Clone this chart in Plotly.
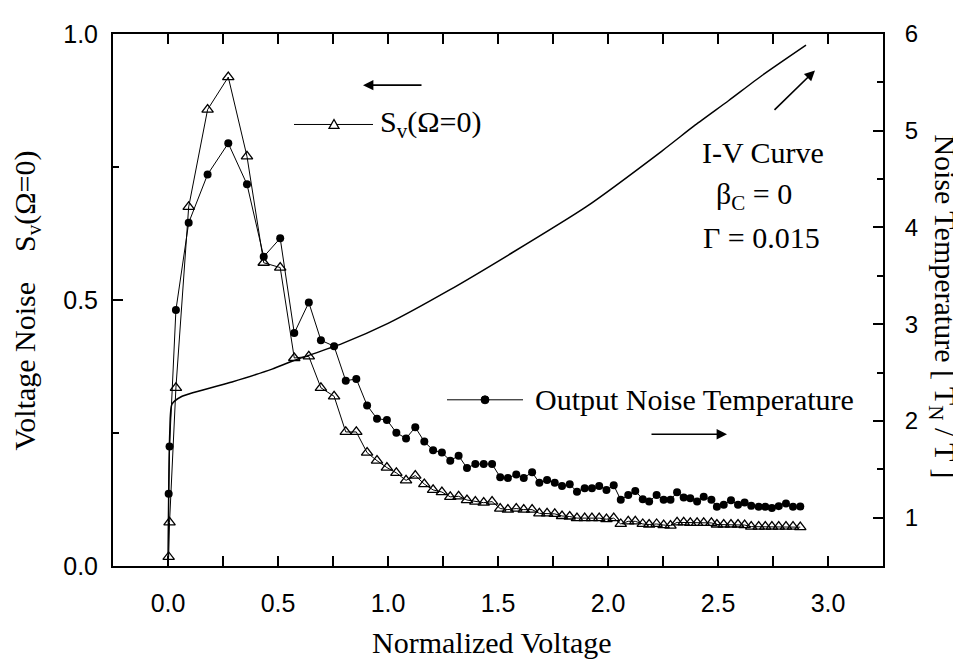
import plotly.graph_objects as go

# ---- data ----
voltage = [0.003, 0.007, 0.036, 0.094, 0.180, 0.274, 0.359, 0.435, 0.510, 0.574,
           0.640, 0.695, 0.755, 0.808, 0.856, 0.905, 0.950, 0.995, 1.038, 1.082,
           1.124, 1.165, 1.205, 1.245, 1.283, 1.321, 1.359, 1.397, 1.435, 1.473,
           1.510, 1.545, 1.583, 1.617, 1.655, 1.688, 1.723, 1.758, 1.791, 1.826,
           1.859, 1.894, 1.927, 1.960, 1.993, 2.026, 2.058, 2.092, 2.124, 2.158,
           2.187, 2.221, 2.253, 2.284, 2.314, 2.344, 2.374, 2.405, 2.435, 2.470,
           2.495, 2.526, 2.559, 2.591, 2.621, 2.651, 2.685, 2.715, 2.745, 2.776,
           2.809, 2.841, 2.874]

sv_noise = [0.017, 0.082, 0.335, 0.675, 0.858, 0.919, 0.770, 0.570, 0.561, 0.391,
            0.394, 0.335, 0.319, 0.252, 0.252, 0.213, 0.198, 0.185, 0.175, 0.161,
            0.170, 0.154, 0.143, 0.139, 0.130, 0.131, 0.124, 0.121, 0.119, 0.121,
            0.108, 0.106, 0.108, 0.106, 0.106, 0.099, 0.099, 0.098, 0.094, 0.093,
            0.090, 0.090, 0.090, 0.090, 0.088, 0.090, 0.079, 0.084, 0.084, 0.079,
            0.078, 0.079, 0.077, 0.076, 0.082, 0.082, 0.081, 0.081, 0.081, 0.081,
            0.078, 0.078, 0.078, 0.078, 0.077, 0.074, 0.074, 0.074, 0.074, 0.074,
            0.074, 0.074, 0.073]

noise_temp = [1.248, 1.735, 3.146, 4.048, 4.548, 4.870, 4.446, 3.697, 3.888, 2.908,
              3.224, 2.834, 2.772, 2.415, 2.434, 2.160, 2.023, 2.010, 1.878, 1.819,
              1.934, 1.786, 1.697, 1.673, 1.589, 1.640, 1.513, 1.554, 1.554, 1.554,
              1.418, 1.411, 1.446, 1.411, 1.469, 1.360, 1.388, 1.360, 1.327, 1.344,
              1.268, 1.303, 1.303, 1.327, 1.286, 1.334, 1.184, 1.235, 1.276, 1.191,
              1.166, 1.235, 1.184, 1.184, 1.262, 1.207, 1.201, 1.166, 1.217, 1.184,
              1.112, 1.133, 1.181, 1.133, 1.156, 1.122, 1.112, 1.112, 1.099, 1.119,
              1.146, 1.112, 1.115]

iv_voltage = [0.0, 0.008, 0.018, 0.064, 0.291, 0.473, 0.564, 0.791, 1.0,
              1.276, 1.549, 1.9, 2.245, 2.397, 2.549, 2.70, 2.90]
iv_current = [0.0, 0.25, 0.304, 0.319, 0.346, 0.370, 0.385, 0.418, 0.456,
              0.518, 0.585, 0.675, 0.780, 0.829, 0.875, 0.922, 0.979]

x_ticks = [0.0, 0.5, 1.0, 1.5, 2.0, 2.5, 3.0]
x_ticktext = ["0.0", "0.5", "1.0", "1.5", "2.0", "2.5", "3.0"]
left_ticks = [0.0, 0.5, 1.0]
left_ticktext = ["0.0", "0.5", "1.0"]
right_ticks = [1, 2, 3, 4, 5, 6]

SERIF = "Liberation Serif, Times New Roman, serif"
SANS = "Liberation Sans, Arial, sans-serif"

# the page body has an 8px margin; the figure is sized so it ends at the window edge
OFF = 8
WIN_W, WIN_H = 961, 661
PL, PR, PT, PB = 113.0, 883.0, 25.0, 566.0   # plot area in window pixels
PW, PH = PR - PL, PB - PT

fig = go.Figure()

fig.add_trace(go.Scatter(
    x=iv_voltage, y=iv_current, mode="lines", name="I-V Curve",
    line=dict(color="black", width=1.5, shape="spline", smoothing=0.6),
    showlegend=False, hoverinfo="skip"))

fig.add_trace(go.Scatter(
    x=voltage, y=sv_noise, mode="lines+markers", name="S_v(Ω=0)",
    line=dict(color="black", width=1),
    marker=dict(symbol="triangle-up-open", size=10, color="black",
                line=dict(width=1.3, color="black")),
    showlegend=False))

fig.add_trace(go.Scatter(
    x=voltage, y=noise_temp, mode="lines+markers", name="Output Noise Temperature",
    yaxis="y2",
    line=dict(color="black", width=1),
    marker=dict(symbol="circle", size=8, color="black"),
    showlegend=False))

axis_common = dict(showgrid=False, zeroline=False, showline=True, linecolor="black",
                   linewidth=2, ticks="inside", ticklen=10, tickwidth=1.5,
                   tickcolor="black")

fig.update_layout(
    width=WIN_W - OFF, height=WIN_H - OFF,
    margin=dict(l=PL - OFF, r=WIN_W - PR, t=PT - OFF, b=WIN_H - PB),
    paper_bgcolor="white", plot_bgcolor="white",
    showlegend=False,
    xaxis=dict(range=[-0.25, 3.25], tickvals=x_ticks, ticktext=x_ticktext,
               mirror="allticks",
               minor=dict(dtick=0.25, tick0=0, ticks="inside", ticklen=6,
                          tickcolor="black", tickwidth=1.5),
               tickfont=dict(family=SANS, size=25, color="black"),
               ticklabelstandoff=14, **axis_common),
    yaxis=dict(range=[0, 1.0], tickvals=left_ticks, ticktext=left_ticktext,
               minor=dict(dtick=0.25, tick0=0, ticks="inside", ticklen=6,
                          tickcolor="black", tickwidth=1.5),
               tickfont=dict(family=SANS, size=25, color="black"),
               ticklabelstandoff=8, **axis_common),
    yaxis2=dict(range=[0.5, 6], tickvals=right_ticks, overlaying="y", side="right",
                minor=dict(dtick=0.5, tick0=0, ticks="inside", ticklen=6,
                           tickcolor="black", tickwidth=1.5),
                tickfont=dict(family=SANS, size=24, color="black"),
                ticklabelstandoff=15, **axis_common),
)


def px(xp):
    return (xp - PL) / PW


def py(yp):
    return (PB - yp) / PH


ann = []
txt = dict(xref="paper", yref="paper", showarrow=False,
           font=dict(family=SERIF, size=30, color="black"))
ann.append(dict(text="Normalized Voltage", x=px(492), y=py(644),
                xanchor="center", yanchor="middle", **txt))
ann.append(dict(text="Voltage Noise&nbsp;&nbsp;&nbsp;&nbsp;S<sub>v</sub>(Ω=0)", x=px(27), y=py(296),
                xanchor="center", yanchor="middle", textangle=-90, **txt))
ann.append(dict(text="Noise Temperature [ T<sub>N</sub> / T ]", x=px(943), y=py(302),
                xanchor="center", yanchor="middle", textangle=90, **txt))
ann.append(dict(text="S<sub>v</sub>(Ω=0)", x=px(378), y=py(117),
                xanchor="left", yanchor="middle", **txt))
ann.append(dict(text="Output Noise Temperature", x=px(533), y=py(397),
                xanchor="left", yanchor="middle", **txt))
ann.append(dict(text="I-V Curve", x=px(763), y=py(145),
                xanchor="center", yanchor="middle", **txt))
ann.append(dict(text="β<sub>C</sub> = 0", x=px(754), y=py(190),
                xanchor="center", yanchor="middle", **txt))
ann.append(dict(text="Γ = 0.015", x=px(761), y=py(232),
                xanchor="center", yanchor="middle", **txt))

arrow = dict(xref="paper", yref="paper", text="", showarrow=True,
             arrowhead=2, arrowsize=1.3, arrowwidth=1.6, arrowcolor="black",
             axref="pixel", ayref="pixel")
ann.append(dict(x=px(363), y=py(77), ax=60, ay=0, **arrow))
ann.append(dict(x=px(727), y=py(432), ax=-77, ay=0, **arrow))
ann.append(dict(x=px(815), y=py(62), ax=-42, ay=41, **arrow))

fig.update_layout(annotations=ann)

shapes = []
shapes.append(dict(type="line", xref="paper", yref="paper",
                   x0=px(294), x1=px(373), y0=py(117), y1=py(117),
                   line=dict(color="black", width=1)))
shapes.append(dict(type="path", xref="paper", yref="paper",
                   xsizemode="pixel", ysizemode="pixel",
                   xanchor=px(334), yanchor=py(117),
                   path="M-5,-4 L5,-4 L0,5 Z",
                   fillcolor="white", line=dict(color="black", width=1.3)))
shapes.append(dict(type="line", xref="paper", yref="paper",
                   x0=px(447), x1=px(523), y0=py(397), y1=py(397),
                   line=dict(color="black", width=1)))
shapes.append(dict(type="circle", xref="paper", yref="paper",
                   xsizemode="pixel", ysizemode="pixel",
                   xanchor=px(485), yanchor=py(397),
                   x0=-4, x1=4, y0=-4, y1=4,
                   fillcolor="black", line=dict(color="black", width=1)))
fig.update_layout(shapes=shapes)

fig.write_html("out.html")
